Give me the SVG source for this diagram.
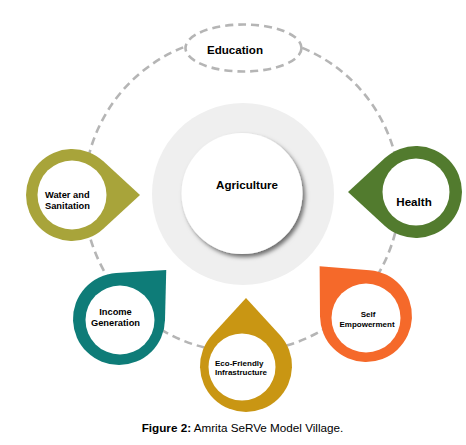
<svg xmlns="http://www.w3.org/2000/svg" width="466" height="445" viewBox="0 0 466 445">
<style>
.lbl{font-family:"Liberation Sans",Arial,sans-serif;font-weight:bold;fill:#000}
.dash{fill:none;stroke:#b5b5b5;stroke-width:2.6;stroke-dasharray:8 5}
.hole{fill:#fff}
</style>
<defs>
<path id="drop" d="M68,0 L31.1,33.9 A46,46 0 1 1 31.1,-33.9 Z"/>
<filter id="sh" x="-20%" y="-20%" width="150%" height="150%">
<feDropShadow dx="2.5" dy="3" stdDeviation="2" flood-color="#000" flood-opacity="0.55"/>
</filter>
</defs>
<rect width="466" height="445" fill="#fff"/>
<g id="connectors">
<circle class="dash" cx="242" cy="194" r="158"/>
</g>
<g id="education">
<ellipse cx="243.5" cy="48" rx="58" ry="23.5" fill="#fff" stroke="#b5b5b5" stroke-width="2.6" stroke-dasharray="8 5"/>
<text class="lbl" x="235" y="54" font-size="11.6" text-anchor="middle">Education</text>
</g>
<g id="agriculture">
<circle cx="243" cy="194" r="91" fill="#efefef"/>
<circle cx="242" cy="193.5" r="60.5" fill="#fff" filter="url(#sh)"/>
<text class="lbl" x="247" y="189" font-size="11.6" text-anchor="middle">Agriculture</text>
</g>
<g id="water">
<use href="#drop" transform="translate(72,195)" fill="#a8a43a"/>
<circle class="hole" cx="72" cy="195" r="34.5"/>
<text class="lbl" x="45" y="198" font-size="9.3">Water and</text>
<text class="lbl" x="45" y="209" font-size="9.3">Sanitation</text>
</g>
<g id="health">
<use href="#drop" transform="translate(416,192) rotate(180)" fill="#527b2e"/>
<circle class="hole" cx="416" cy="192" r="33.5"/>
<text class="lbl" x="414" y="206" font-size="11.6" text-anchor="middle">Health</text>
</g>
<g id="income">
<use href="#drop" transform="translate(119,319) rotate(-46)" fill="#0e7c78"/>
<circle class="hole" cx="120" cy="320" r="34.5"/>
<text class="lbl" x="115.5" y="315" font-size="9.3" text-anchor="middle">Income</text>
<text class="lbl" x="115.5" y="326" font-size="9.3" text-anchor="middle">Generation</text>
</g>
<g id="self">
<use href="#drop" transform="translate(366,316) rotate(-133)" fill="#f5692a"/>
<circle class="hole" cx="366" cy="318" r="34.5"/>
<text class="lbl" x="368" y="317" font-size="8" text-anchor="middle">Self</text>
<text class="lbl" x="367" y="327" font-size="8" text-anchor="middle">Empowerment</text>
</g>
<g id="eco">
<use href="#drop" transform="translate(246,366) rotate(-90)" fill="#c99613"/>
<circle class="hole" cx="242" cy="367" r="33.5"/>
<text class="lbl" x="215" y="366" font-size="8">Eco-Friendly</text>
<text class="lbl" x="215" y="375" font-size="8">Infrastructure</text>
</g>
<text x="242.5" y="432" font-family="Liberation Sans,Arial,sans-serif" font-size="11.7" text-anchor="middle" fill="#000"><tspan font-weight="bold">Figure 2:</tspan> Amrita SeRVe Model Village.</text>
</svg>
